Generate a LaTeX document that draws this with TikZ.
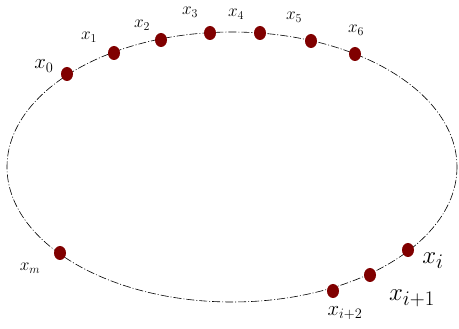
\documentclass[tikz,border=0pt]{standalone}
\usepackage{xcolor}
\usepackage{tikz}
\usetikzlibrary{shapes.geometric, positioning}
\definecolor{DotRed}{HTML}{800000}

\begin{document}
\begin{tikzpicture}[
  x=1pt, y=-1pt,
  orbit/.style={draw=black, line width=0.6pt, dash pattern=on 8pt off 2pt on 1pt off 2pt},
  pointdot/.style={ellipse, fill=DotRed, inner sep=0pt, minimum width=12pt, minimum height=14pt},
  smalllabel/.style={inner sep=0pt, font=\fontsize{17}{17}\selectfont},
  biglabel/.style={inner sep=0pt, font=\fontsize{28}{28}\selectfont}
]
\useasboundingbox (0,0) rectangle (459,329);

% the closed curve
\draw[orbit] (232,167) ellipse [x radius=225, y radius=135];

% points on the curve
\node[pointdot] (p0) at (67,74) {};
\node[pointdot] (p1) at (114,53) {};
\node[pointdot] (p2) at (161,40) {};
\node[pointdot] (p3) at (210,33) {};
\node[pointdot] (p4) at (260,33) {};
\node[pointdot] (p5) at (311,41) {};
\node[pointdot] (p6) at (355,54) {};
\node[pointdot] (pm) at (60,253) {};
\node[pointdot] (pi) at (408,250) {};
\node[pointdot] (pi1) at (370,275) {};
\node[pointdot] (pi2) at (333,291) {};

% labels
\node[smalllabel, font=\fontsize{21}{21}\selectfont] (l0) at (44,66) {$x_0$};
\node[smalllabel] (l1) at (89,37) {$x_1$};
\node[smalllabel] (l2) at (142,25) {$x_2$};
\node[smalllabel] (l3) at (190,12) {$x_3$};
\node[smalllabel] (l4) at (236,14) {$x_4$};
\node[smalllabel] (l5) at (294,17) {$x_5$};
\node[smalllabel] (l6) at (356,30) {$x_6$};
\node[smalllabel] (lm) at (30,268) {$x_m$};
\node[biglabel] (li) at (433,261) {$x_i$};
\node[biglabel] (li1) at (412,298) {$x_{i+1}$};
\node[smalllabel, font=\fontsize{22}{22}\selectfont] (li2) at (345,313) {$x_{i+2}$};
\end{tikzpicture}
\end{document}
